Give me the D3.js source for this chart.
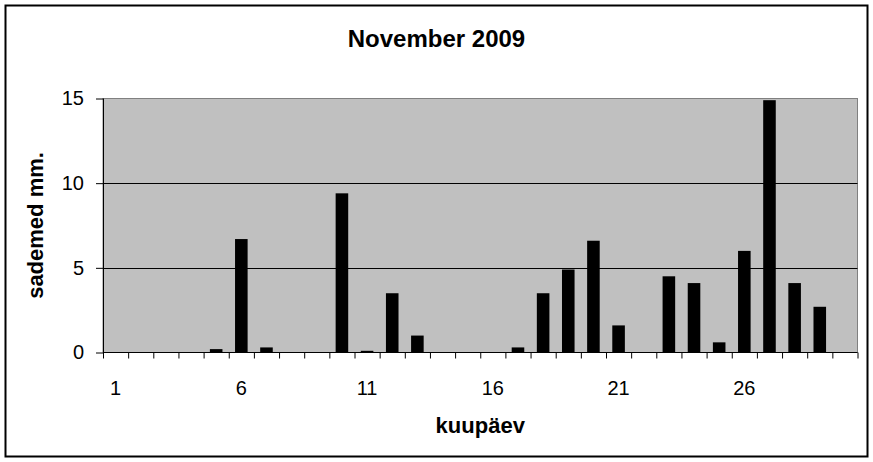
<!DOCTYPE html>
<html>
<head>
<meta charset="utf-8">
<script src="https://cdn.jsdelivr.net/npm/d3@7"></script>
<style>
  html, body { margin: 0; padding: 0; background: #fff; }
  svg { display: block; font-family: Arial, "Liberation Sans", sans-serif; }
</style>
</head>
<body>
<svg id="chart" width="873" height="462"></svg>
<script>
const titleText = "November 2009";
const xTitle = "kuupäev";
const yTitle = "sademed mm.";
const days = d3.range(1, 31);
const precipitation = [0, 0, 0, 0, 0.2, 6.7, 0.3, 0, 0, 9.4,
                       0.1, 3.5, 1.0, 0, 0, 0, 0.3, 3.5, 4.9, 6.6,
                       1.6, 0, 4.5, 4.1, 0.6, 6.0, 14.9, 4.1, 2.7, 0];
const xTickLabels = [1, 6, 11, 16, 21, 26];
const yTickValues = [0, 5, 10, 15];

const svg = d3.select("#chart");
const W = 873, H = 462;
const plot = { left: 103, top: 98.5, right: 857.5, bottom: 352.5 };

// outer border
svg.append("rect")
  .attr("x", 5.5).attr("y", 5.5)
  .attr("width", 862).attr("height", 451)
  .attr("fill", "#fff").attr("stroke", "#000").attr("stroke-width", 2);

const x = d3.scaleBand()
  .domain(days)
  .range([plot.left, plot.right])
  .paddingInner(0.5).paddingOuter(0.25);
const xb = d3.scaleLinear().domain([0.5, 30.5]).range([plot.left, plot.right]);
const y = d3.scaleLinear().domain([0, 15]).range([plot.bottom, plot.top]);

// plot area
svg.append("rect")
  .attr("x", plot.left).attr("y", plot.top)
  .attr("width", plot.right - plot.left).attr("height", plot.bottom - plot.top)
  .attr("fill", "#c0c0c0").attr("stroke", "#808080").attr("stroke-width", 1);

// gridlines
svg.append("g").selectAll("line")
  .data(yTickValues.filter(v => v > 0 && v < 15))
  .join("line")
  .attr("x1", plot.left).attr("x2", plot.right)
  .attr("y1", d => Math.round(y(d)) + 0.5).attr("y2", d => Math.round(y(d)) + 0.5)
  .attr("stroke", "#000").attr("stroke-width", 1);

// bars
svg.append("g").selectAll("rect")
  .data(days.map((d, i) => ({ d, v: precipitation[i] })).filter(o => o.v > 0))
  .join("rect")
  .attr("x", o => x(o.d))
  .attr("width", x.bandwidth())
  .attr("y", o => y(o.v))
  .attr("height", o => y(0) - y(o.v))
  .attr("fill", "#000");

// y axis
const yAxis = svg.append("g")
  .attr("transform", `translate(${plot.left},0)`)
  .call(d3.axisLeft(y).tickValues(yTickValues).tickSize(7).tickPadding(12).tickFormat(d3.format("d")));
yAxis.select(".domain").remove();
yAxis.selectAll("line").attr("stroke", "#000");
yAxis.selectAll("text").attr("font-size", 20).attr("fill", "#000")
  .attr("font-family", "Arial, 'Liberation Sans', sans-serif");
svg.append("line")
  .attr("x1", plot.left + 0.5).attr("x2", plot.left + 0.5)
  .attr("y1", plot.top).attr("y2", plot.bottom)
  .attr("stroke", "#000");

// x axis ticks (category boundaries)
const xTicksG = svg.append("g")
  .attr("transform", `translate(0,${plot.bottom})`)
  .call(d3.axisBottom(xb).tickValues(d3.range(0.5, 31, 1)).tickSize(6).tickFormat(""));
xTicksG.select(".domain").remove();
xTicksG.selectAll("line").attr("stroke", "#000");
svg.append("line")
  .attr("x1", plot.left).attr("x2", plot.right)
  .attr("y1", plot.bottom).attr("y2", plot.bottom)
  .attr("stroke", "#000");

// x axis labels
const xLab = svg.append("g")
  .attr("transform", `translate(0,${plot.bottom})`)
  .call(d3.axisBottom(x).tickValues(xTickLabels).tickSize(0).tickPadding(0));
xLab.select(".domain").remove();
xLab.selectAll("text")
  .attr("y", 42).attr("dy", 0)
  .attr("font-size", 20).attr("fill", "#000")
  .attr("font-family", "Arial, 'Liberation Sans', sans-serif");

// title
svg.append("text")
  .attr("x", 436.5).attr("y", 47)
  .attr("text-anchor", "middle")
  .attr("font-size", 24).attr("font-weight", "bold")
  .text(titleText);

// axis titles
svg.append("text")
  .attr("x", (plot.left + plot.right) / 2).attr("y", 433)
  .attr("text-anchor", "middle")
  .attr("font-size", 22).attr("font-weight", "bold")
  .text(xTitle);
svg.append("text")
  .attr("transform", `translate(43,${(plot.top + plot.bottom) / 2}) rotate(-90)`)
  .attr("text-anchor", "middle")
  .attr("font-size", 22).attr("font-weight", "bold")
  .text(yTitle);
</script>
</body>
</html>
